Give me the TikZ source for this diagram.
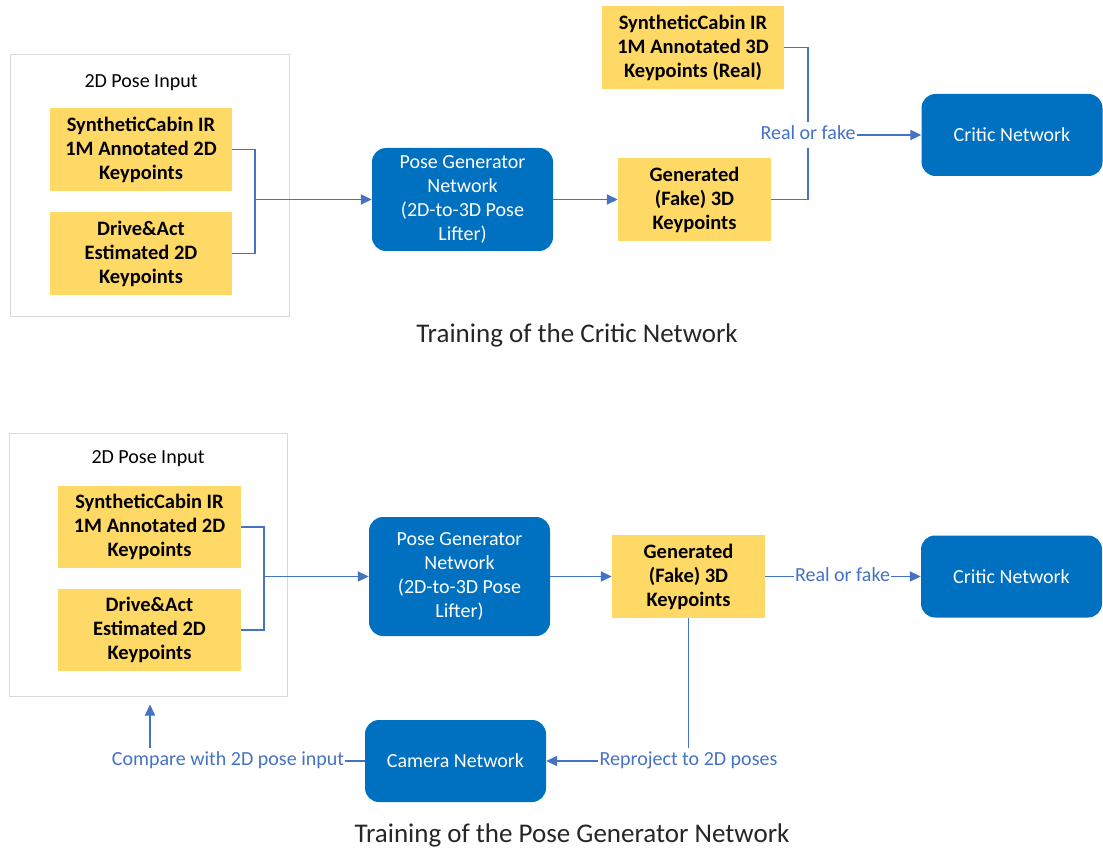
\documentclass[tikz,border=0pt]{standalone}
\usepackage{fontspec}
\setmainfont{Carlito}
\usetikzlibrary{arrows.meta,positioning,calc}
\definecolor{kpYellow}{HTML}{FFD966}
\definecolor{netBlue}{HTML}{0070C0}
\definecolor{lnBlue}{HTML}{4472C4}
\definecolor{frameGray}{HTML}{D9D9D9}

\begin{document}
\begin{tikzpicture}[x=1pt, y=-1pt, every node/.style={font=\fontsize{20}{24}\selectfont},
  frame/.style={draw=frameGray, line width=1pt},
  kp/.style={fill=kpYellow, font=\fontsize{20.5}{24}\selectfont\bfseries, align=center,
    minimum width=182pt, minimum height=83pt, inner sep=0pt},
  net/.style={fill=netBlue, text=white, rounded corners=14pt, align=center,
    minimum width=181pt, minimum height=82pt, inner sep=0pt},
  lbl/.style={text=lnBlue, inner xsep=1pt, inner ysep=3pt, text height=14pt, text depth=5pt},
  title/.style={font=\fontsize{27}{30}\selectfont, text=black!85},
  flow/.style={draw=lnBlue, line width=1.8pt},
  arr/.style={-{Triangle[length=11pt,width=10pt]}}]
  \useasboundingbox (0,0) rectangle (1103,850);

  % training of the critic
  \node[frame, minimum width=279pt, minimum height=262pt] (inA) at (149.5,186) {};
  \node (inAlbl) at (141,83) {2D Pose Input};
  \node[kp] (synA) at (141,149.5) {SyntheticCabin IR\\1M Annotated 2D\\Keypoints};
  \node[kp] (daA) at (141,253.5) {Drive\&Act\\Estimated 2D\\Keypoints};
  \coordinate (jA) at (255,199.5);
  \node[net, minimum height=103pt] (genA) at (462.5,199.5) {Pose Generator\\Network\\(2D-to-3D Pose\\Lifter)};
  \node[kp, minimum width=153pt] (fakeA) at (694.5,199.5) {Generated\\(Fake) 3D\\Keypoints};
  \node[kp] (realA) at (693,47.5) {SyntheticCabin IR\\1M Annotated 3D\\Keypoints (Real)};
  \node[lbl] (rofA) at (808,135) {Real or fake};
  \node[net] (criticA) at (1012,135) {Critic Network};
  \node[title] (titleA) at (577,335) {Training of the Critic Network};

  \draw[flow] (synA.east) -| (jA) |- (daA.east);
  \draw[flow,arr] (jA) -- (genA.west);
  \draw[flow,arr] (genA) -- (fakeA);
  \draw[flow] (realA.east) -| (rofA.north);
  \draw[flow] (fakeA.east) -| (rofA.south);
  \draw[flow,arr] (rofA) -- (criticA);

  % training of the pose generator
  \node[frame, minimum width=278pt, minimum height=263pt] (inB) at (148,564.5) {};
  \node (inBlbl) at (148,459) {2D Pose Input};
  \node[kp, minimum width=183pt, minimum height=82pt] (synB) at (149.5,527) {SyntheticCabin IR\\1M Annotated 2D\\Keypoints};
  \node[kp, minimum width=183pt, minimum height=82pt] (daB) at (149.5,630) {Drive\&Act\\Estimated 2D\\Keypoints};
  \coordinate (jB) at (264,576.5);
  \node[net, minimum height=119pt] (genB) at (459.5,576.5) {Pose Generator\\Network\\(2D-to-3D Pose\\Lifter)};
  \node[kp, minimum width=153pt] (fakeB) at (688.5,576.5) {Generated\\(Fake) 3D\\Keypoints};
  \node[lbl] (rofB) at (842.5,576.5) {Real or fake};
  \node[net] (criticB) at (1011.5,576.5) {Critic Network};
  \node[net] (cam) at (455.5,761) {Camera Network};
  \node[lbl] (cmp) at (228,761) {Compare with 2D pose input};
  \node[lbl] (rep) at (688.5,761) {Reproject to 2D poses};
  \coordinate (cmpUp) at (150,748);
  \node[title] (titleB) at (572,835) {Training of the Pose Generator Network};

  \draw[flow] (synB.east) -| (jB) |- (daB.east);
  \draw[flow,arr] (jB) -- (genB.west);
  \draw[flow,arr] (genB) -- (fakeB);
  \draw[flow] (fakeB) -- (rofB);
  \draw[flow,arr] (rofB) -- (criticB);
  \draw[flow] (fakeB.south) -- (rep.north);
  \draw[flow,arr] (rep) -- (cam);
  \draw[flow] (cmp) -- (cam);
  \draw[flow,arr,shorten >=8pt] (cmpUp) -- (cmpUp |- inB.south);
\end{tikzpicture}
\end{document}
